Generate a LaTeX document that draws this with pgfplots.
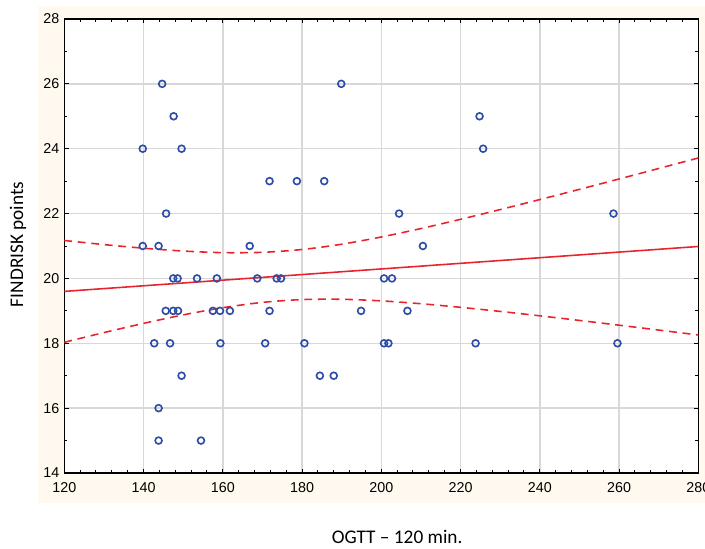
\documentclass[border=0pt]{standalone}
\usepackage{fontspec}
\setmainfont{Liberation Sans}
\newfontfamily\carlito{Carlito}
\usepackage{pgfplots}
\pgfplotsset{compat=1.18}
\definecolor{ptblue}{HTML}{2E4DA7}
\definecolor{fitred}{HTML}{E8232B}
\definecolor{gridgray}{HTML}{D8D8D8}
\definecolor{cream}{HTML}{FFF9EF}

\pgfplotstableread{
x y
144.7 26
189.9 26
147.6 25
224.8 25
139.8 24
149.6 24
225.7 24
171.8 23
178.7 23
185.6 23
145.7 22
204.5 22
258.6 22
139.8 21
143.8 21
166.8 21
210.5 21
147.5 20
148.6 20
153.5 20
158.5 20
168.7 20
173.6 20
174.7 20
200.7 20
202.7 20
145.6 19
147.5 19
148.7 19
157.5 19
159.3 19
161.8 19
171.8 19
194.9 19
206.6 19
142.7 18
146.7 18
159.4 18
170.7 18
180.6 18
200.7 18
201.8 18
223.8 18
259.6 18
149.6 17
184.5 17
188.0 17
143.8 16
143.8 15
154.5 15
}\points

\begin{document}
\begin{tikzpicture}
\begin{axis}[name=ax, scale only axis, width=443.8pt, height=317.8pt,
  xmin=120, xmax=280, ymin=14, ymax=28,
  xtick={120,140,...,280}, ytick={14,16,...,28},
  minor x tick num=4, minor y tick num=1,
  grid=major, major grid style={gridgray, line width=1pt},
  axis line style={black, line width=0.9pt},
  tick align=inside, major tick length=3pt, minor tick length=2pt,
  every tick/.style={black, line width=0.7pt},
  tick label style={font=\fontsize{10}{12}\selectfont},
  xticklabel style={yshift=-3pt},
  /pgf/number format/assume math mode=true,
  set layers, clip=false]
\begin{pgfonlayer}{axis background}
\fill[cream] (axis cs:113.4,13.08) rectangle (axis cs:283,28.4);
\fill[white] (axis cs:120,14) rectangle (axis cs:280,28);
\end{pgfonlayer}

% regression line and 95% band
\addplot[fitred, line width=1.1pt] coordinates {(120,19.600) (280,20.985)};
\addplot[fitred, line width=1.1pt, dash pattern=on 5.5pt off 4pt, smooth] coordinates {
 (120,21.170) (130,21.044) (140,20.932) (150,20.845) (160,20.795) (170,20.805)
 (180,20.892) (190,21.055) (200,21.278) (210,21.538) (220,21.823) (230,22.123)
 (240,22.431) (250,22.747) (260,23.066) (270,23.390) (280,23.714)};
\addplot[fitred, line width=1.1pt, dash pattern=on 5.5pt off 4pt, smooth] coordinates {
 (120,18.030) (130,18.330) (140,18.614) (150,18.875) (160,19.097) (170,19.261)
 (180,19.348) (190,19.357) (200,19.308) (210,19.220) (220,19.109) (230,18.983)
 (240,18.847) (250,18.705) (260,18.558) (270,18.408) (280,18.256)};

\addplot[only marks, mark=o, mark size=2.4pt, mark options={ptblue, line width=1.15pt}]
  table[x=x, y=y] {\points};

\node[font=\carlito\fontsize{13.5}{15}\selectfont] at (axis cs:204,12.03) {OGTT – 120 min.};
\node[font=\carlito\fontsize{13.5}{15}\selectfont, rotate=90] at (axis cs:108.3,21.05) {FINDRISK points};
\end{axis}
\pgfresetboundingbox
\path[use as bounding box] ([xshift=-45pt,yshift=-52.5pt]ax.south west) rectangle ([xshift=4.7pt,yshift=13.3pt]ax.north east);
\end{tikzpicture}
\end{document}
